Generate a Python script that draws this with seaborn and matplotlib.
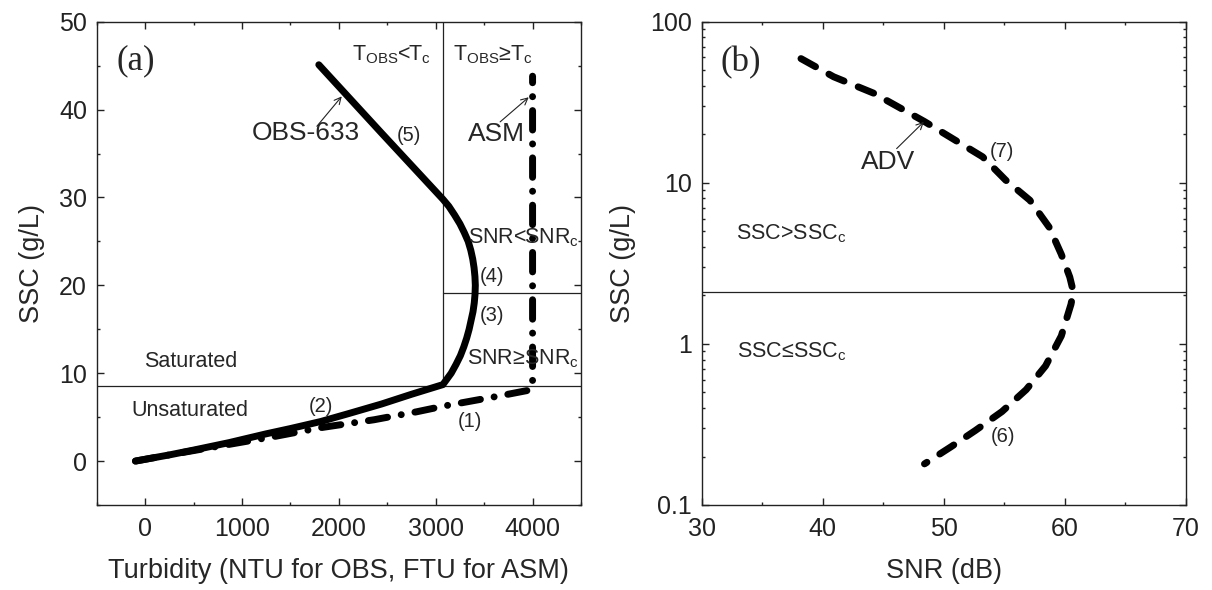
import numpy as np
import pandas as pd
import seaborn as sns
import matplotlib.pyplot as plt
from matplotlib.ticker import MultipleLocator, LogLocator, FuncFormatter, NullFormatter

# (a) OBS-633 response curve
obs_turb = [-100, 0, 250, 500, 867, 1250, 1500, 1813, 2100, 2443, 2750, 3074,
            3160, 3210, 3255, 3290, 3320, 3345, 3365, 3385, 3398, 3406, 3409,
            3405, 3396, 3382, 3362, 3335, 3295, 3250, 3195, 3135, 3074, 2443, 1793]
obs_ssc = [0, 0.2, 0.7, 1.25, 2.1, 3.1, 3.7, 4.5, 5.4, 6.5, 7.6, 8.7,
           10, 11, 12, 13, 14, 15, 16, 17, 18, 19, 20,
           21, 22, 23, 24, 25, 26, 27, 28, 29, 29.8, 37.3, 45.1]

# (a) ASM response curve
asm_turb = [-100, 400, 867, 1337, 1813, 2363, 2800, 3103, 3652, 3980, 4000, 4000]
asm_ssc = [0, 1.0, 1.9, 2.8, 3.8, 4.7, 5.6, 6.3, 7.4, 8.1, 8.4, 43.8]

# (b) ADV curve
adv_snr = [38.2, 40.9, 44.2, 48.4, 53.2, 55.1, 57.1, 58.7, 59.7, 60.4, 60.7,
           60.5, 59.7, 58.4, 56.8, 54.8, 52.6, 50.6, 48.4]
adv_ssc = [59, 45.5, 36, 24, 14.5, 10.4, 7.8, 5.3, 3.6, 2.6, 2.1,
           1.76, 1.12, 0.73, 0.52, 0.38, 0.29, 0.23, 0.18]

# thresholds
t_c = 3074        # turbidity where OBS saturates
ssc_sat = 8.5     # saturated / unsaturated split
ssc_snr = 19.1    # SNR split for ASM
ssc_c = 2.1       # SSC_c for ADV

obs = pd.DataFrame({'x': obs_turb, 'y': obs_ssc})
asm = pd.DataFrame({'x': asm_turb, 'y': asm_ssc})
adv = pd.DataFrame({'x': adv_snr, 'y': adv_ssc})

sns.set_theme(style='ticks')
plt.rcParams['font.family'] = ['Liberation Sans', 'DejaVu Sans']
plt.rcParams['axes.linewidth'] = 1.0
plt.rcParams['axes.edgecolor'] = '#222222'
for a in ['x', 'y']:
    plt.rcParams[a + 'tick.direction'] = 'in'
    plt.rcParams[a + 'tick.major.size'] = 5
    plt.rcParams[a + 'tick.minor.size'] = 2.5
    plt.rcParams[a + 'tick.major.width'] = 1
    plt.rcParams[a + 'tick.minor.width'] = 1
    plt.rcParams[a + 'tick.labelsize'] = 18
    plt.rcParams[a + 'tick.color'] = '#222222'
plt.rcParams['xtick.major.pad'] = 9
plt.rcParams['ytick.major.pad'] = 7

fig = plt.figure(figsize=(12.12, 5.9), dpi=100)
ax1 = fig.add_axes([96.7 / 1212, 85 / 590, 484.3 / 1212, 483.3 / 590])
ax2 = fig.add_axes([701.7 / 1212, 85 / 590, 484.3 / 1212, 483.3 / 590])

lw = 5
small = 14.5
mid = 15.5
big = 19
lab = 19.5
arrow = dict(arrowstyle='->', lw=0.8, color='#222222', shrinkA=0, shrinkB=0)

# ---- panel (a)
ax1.plot([-500, 4500], [ssc_sat, ssc_sat], color='#222222', lw=0.9)
ax1.plot([t_c, t_c], [ssc_sat, 50], color='#222222', lw=0.9)
ax1.plot([t_c, 4500], [ssc_snr, ssc_snr], color='#222222', lw=0.9)

sns.lineplot(data=asm, x='x', y='y', sort=False, estimator=None, ax=ax1,
             color='black', lw=lw, linestyle=(0, (2.8, 2.0, 0.01, 2.0)),
             dash_capstyle='round', solid_capstyle='round')
sns.lineplot(data=obs, x='x', y='y', sort=False, estimator=None, ax=ax1,
             color='black', lw=lw, solid_capstyle='round', solid_joinstyle='round')

ax1.set_xlim(-500, 4500)
ax1.set_ylim(-5, 50)
ax1.xaxis.set_major_locator(MultipleLocator(1000))
ax1.xaxis.set_minor_locator(MultipleLocator(500))
ax1.yaxis.set_major_locator(MultipleLocator(10))
ax1.yaxis.set_minor_locator(MultipleLocator(5))
ax1.tick_params(which='both', top=True, right=True)
ax1.set_xlabel('Turbidity (NTU for OBS, FTU for ASM)', fontsize=lab, labelpad=12)
ax1.set_ylabel('SSC (g/L)', fontsize=lab, labelpad=10)

ax1.text(-100, 45.5, '(a)', family='Liberation Serif', fontsize=25, ha='center', va='center')
ax1.text(2542, 46.2, r'T$_{\mathregular{OBS}}$<T$_{\mathregular{c}}$', fontsize=mid, ha='center', va='center')
ax1.text(3594, 46.2, r'T$_{\mathregular{OBS}}$≥T$_{\mathregular{c}}$', fontsize=mid, ha='center', va='center')
ax1.text(1663, 37.3, 'OBS-633', fontsize=big, ha='center', va='center')
ax1.text(2719, 37.1, '(5)', fontsize=small, ha='center', va='center')
ax1.text(3625, 37.2, 'ASM', fontsize=big, ha='center', va='center')
ax1.text(3909, 25.4, r'SNR<SNR$_{\mathregular{c}}$', fontsize=mid, ha='center', va='center')
ax1.text(3586, 21.0, '(4)', fontsize=small, ha='center', va='center')
ax1.text(3586, 16.6, '(3)', fontsize=small, ha='center', va='center')
ax1.text(3902, 11.7, r'SNR≥SNR$_{\mathregular{c}}$', fontsize=mid, ha='center', va='center')
ax1.text(473, 11.3, 'Saturated', fontsize=mid, ha='center', va='center')
ax1.text(461, 5.7, 'Unsaturated', fontsize=mid, ha='center', va='center')
ax1.text(1813, 6.2, '(2)', fontsize=small, ha='center', va='center')
ax1.text(3358, 4.5, '(1)', fontsize=small, ha='center', va='center')
ax1.annotate('', xy=(2030, 41.5), xytext=(1773, 38.1), arrowprops=arrow)
ax1.annotate('', xy=(3960, 41.4), xytext=(3665, 38.6), arrowprops=arrow)

# ---- panel (b)
ax2.plot([30, 70], [ssc_c, ssc_c], color='#222222', lw=0.9)
sns.lineplot(data=adv, x='x', y='y', sort=False, estimator=None, ax=ax2,
             color='black', lw=lw, linestyle=(0, (2.4, 2.2)),
             dash_capstyle='round')
ax2.set_yscale('log')
ax2.set_xlim(30, 70)
ax2.set_ylim(0.1, 100)
ax2.xaxis.set_major_locator(MultipleLocator(10))
ax2.xaxis.set_minor_locator(MultipleLocator(5))
ax2.yaxis.set_major_locator(LogLocator(base=10))
ax2.yaxis.set_minor_locator(LogLocator(base=10, subs=np.arange(2, 10)))
ax2.yaxis.set_major_formatter(FuncFormatter(lambda v, p: f'{v:g}'))
ax2.yaxis.set_minor_formatter(NullFormatter())
ax2.tick_params(which='both', top=True, right=True)
ax2.set_xlabel('SNR (dB)', fontsize=lab, labelpad=12)
ax2.set_ylabel('SSC (g/L)', fontsize=lab, labelpad=10)

ax2.text(33.2, 56, '(b)', family='Liberation Serif', fontsize=25, ha='center', va='center')
ax2.text(45.4, 13.5, 'ADV', fontsize=big, ha='center', va='center')
ax2.text(54.8, 15.6, '(7)', fontsize=small, ha='center', va='center')
ax2.text(37.4, 4.84, r'SSC>SSC$_{\mathregular{c}}$', fontsize=mid, ha='center', va='center')
ax2.text(37.4, 0.9, r'SSC≤SSC$_{\mathregular{c}}$', fontsize=mid, ha='center', va='center')
ax2.text(54.9, 0.266, '(6)', fontsize=small, ha='center', va='center')
ax2.annotate('', xy=(48.35, 23.9), xytext=(46.1, 16.3), arrowprops=arrow)

fig.savefig('out.png', dpi=100)
